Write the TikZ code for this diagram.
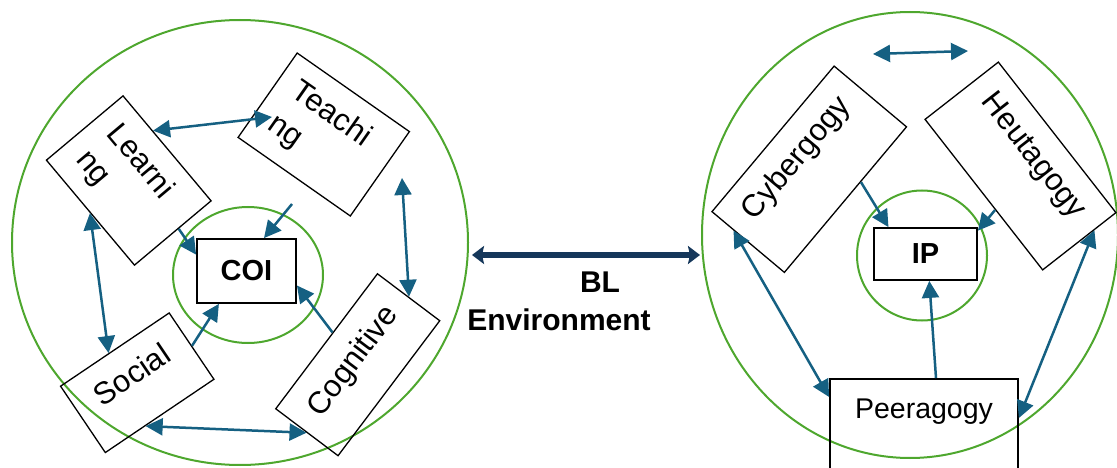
\documentclass[tikz,border=0pt]{standalone}
\usepackage{fontspec}
\setmainfont{Liberation Sans}
\usepackage{tikz}
\usetikzlibrary{arrows.meta}

\definecolor{ringgreen}{HTML}{4EA72E}
\definecolor{arrowblue}{HTML}{156082}
\definecolor{envnavy}{HTML}{15375A}

\tikzset{
	bluetip/.tip={Triangle[length=17pt,width=17pt]},
	navytip/.tip={Stealth[length=12pt,width=18pt,inset=2pt]},
	ring/.style={draw=ringgreen, line width=2pt},
	rbox/.style={draw, line width=1.3pt, inner sep=0pt, text height=22pt,
		font=\fontsize{31pt}{40pt}\selectfont},
	core/.style={draw, line width=1.8pt, inner sep=0pt,
		font=\fontsize{29pt}{34pt}\selectfont\bfseries},
	envtext/.style={anchor=base, font=\fontsize{30pt}{34pt}\selectfont\bfseries},
	link/.style={arrowblue, line width=2.5pt, -bluetip},
	both/.style={arrowblue, line width=2.5pt, bluetip-bluetip},
}

\begin{document}
\begin{tikzpicture}[x=1pt, y=-1pt]
		\useasboundingbox (0,0) rectangle (1117,468);
		\clip (0,0) rectangle (1117,468);
		% COI side
		\draw[ring] (240,242.5) ellipse [x radius=228, y radius=222.5];
		\draw[ring] (248,275) ellipse [x radius=75, y radius=68];
		\node[core, minimum width=99pt, minimum height=64pt] (coi) at (246.5,271) {COI};
		\node[rbox, rotate=-50, minimum width=137pt, minimum height=100pt, text width=100pt, align=left] (learn) at (128.75,180.5) {Learni\\ng};
		\node[rbox, rotate=-35, minimum width=137pt, minimum height=103pt, text width=100pt, align=left] (teach) at (323.75,134.5) {Teachi\\ng};
		\node[rbox, rotate=34, minimum width=131pt, minimum height=80pt, text depth=20pt] (soc) at (137.25,382.75) {Social};
		\node[rbox, rotate=53, minimum width=169pt, minimum height=78pt, text depth=16pt] (cog) at (357.75,364.75) {Cognitive};
		\coordinate (teach-in) at (272,117);
		\coordinate (teach-out) at (402,178);
		\coordinate (teach-down) at (292,204);
		\draw[both] (learn.114) -- (teach-in);
		\draw[both] (teach-out) -- (cog.east);
		\draw[both] (learn.south) -- (soc.100);
		\draw[both] (soc.247) -- (cog.west);
		\draw[link] (learn.6) -- (coi.162);
		\draw[link] (teach-down) -- (coi.62);
		\draw[link] (soc.east) -- (coi.230);
		\draw[link] (cog.75) -- (coi.-16);
		% environment
		\coordinate (coi-env) at (472,255);
		\coordinate (ip-env) at (700,255);
		\draw[envnavy, line width=5.5pt, navytip-navytip] (coi-env) -- (ip-env);
		\node[envtext] (bl) at (600,292) {BL};
		\node[envtext] (env) at (559,330) {Environment};
		% IP side
		\draw[ring] (910,235) ellipse [x radius=208, y radius=223];
		\draw[ring] (922,255.5) circle [radius=65];
		\node[core, minimum width=103pt, minimum height=52pt] (ip) at (925.5,254) {IP};
		\node[rbox, rotate=50, minimum width=190pt, minimum height=94.5pt, text depth=38pt] (cyber) at (809.25,169.25) {Cybergogy};
		\node[rbox, rotate=-52, minimum width=191pt, minimum height=93pt, text depth=38pt] (heut) at (1020.5,166) {Heutagogy};
		\node[draw, line width=1.8pt, anchor=north, minimum width=188pt, inner ysep=10pt, text height=30pt, text depth=80pt,
			font=\fontsize{28.5pt}{34pt}\selectfont] (peer) at (924,378) {Peeragogy};
		\coordinate (top-l) at (873,54);
		\coordinate (top-r) at (968,51);
		\draw[both] (top-l) -- (top-r);
		\draw[both] (cyber.169) -- ([yshift=-19pt]peer.north west);
		\draw[both] (heut.11) -- ([yshift=-40pt]peer.north east);
		\draw[link] (cyber.-64) -- (ip.144);
		\draw[link] (heut.-68) -- (ip.24);
		\draw[link] ([xshift=12pt]peer.north) -- (ip.-82);
	\end{tikzpicture}
\end{document}
